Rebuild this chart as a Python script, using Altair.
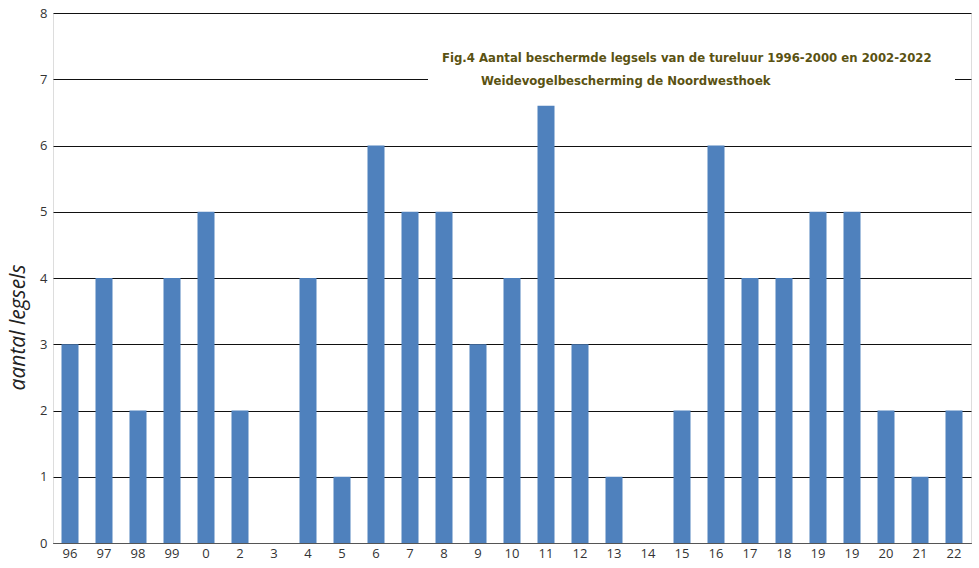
import altair as alt
import pandas as pd

labels = ["96", "97", "98", "99", "0", "2", "3", "4", "5", "6", "7", "8", "9", "10",
          "11", "12", "13", "14", "15", "16", "17", "18", "19", "19", "20", "21", "22"]
values = [3, 4, 2, 4, 5, 2, 0, 4, 1, 6, 5, 5, 3, 4,
          6.6, 3, 1, 0, 2, 6, 4, 4, 5, 5, 2, 1, 2]
y_ticks = [0, 1, 2, 3, 4, 5, 6, 7, 8]
title_lines = ["Fig.4 Aantal beschermde legsels van de tureluur 1996-2000 en 2002-2022",
               "Weidevogelbescherming de Noordwesthoek"]

keys = [f"{l}_{i}" for i, l in enumerate(labels)]
df = pd.DataFrame({"key": keys, "value": values})

W, H = 918, 530
TFONT = "'DejaVu Sans Condensed', 'Liberation Sans Narrow', sans-serif"

x_enc = alt.X("key:N", sort=keys,
              scale=alt.Scale(paddingInner=0.5, paddingOuter=0.25),
              axis=alt.Axis(title=None, labelExpr="split(datum.value, '_')[0]",
                            labelAngle=0, labelFont="Open Sans", labelFontSize=13,
                            labelColor="#333333", labelPadding=4, ticks=False,
                            domainColor="#555555", domainWidth=1.2, grid=False))
y_enc = alt.Y("value:Q", scale=alt.Scale(domain=[0, 8], nice=False),
              axis=alt.Axis(title="aantal legsels", values=y_ticks, labelOverlap=False,
                            ticks=False, domain=False,
                            labelFont="Open Sans", labelFontSize=13, labelColor="#333333",
                            labelPadding=6, gridColor="#111111", gridWidth=1,
                            titleFont="Open Sans", titleFontStyle="italic",
                            titleFontWeight="normal", titleFontSize=21, titleColor="#222222",
                            titleAngle=-90, titleX=-35, titleY=314, titleAlign="center",
                            titleBaseline="middle"))

box = alt.Chart(pd.DataFrame({"a": [0]})).mark_rect(color="white").encode(
    x=alt.value(375), x2=alt.value(902), y=alt.value(20), y2=alt.value(100))

bars = alt.Chart(df).mark_bar(color="#4f81bd").encode(x=x_enc, y=y_enc)

t1 = alt.Chart(pd.DataFrame({"t": [title_lines[0]]})).mark_text(
    font=TFONT, fontSize=13, color="#5a5212", align="left", fontWeight="bold",
    baseline="alphabetic").encode(text="t:N", x=alt.value(389), y=alt.value(49))
t2 = alt.Chart(pd.DataFrame({"t": [title_lines[1]]})).mark_text(
    font=TFONT, fontSize=13, color="#5a5212", align="left", fontWeight="bold",
    baseline="alphabetic").encode(text="t:N", x=alt.value(428), y=alt.value(72))

chart = alt.layer(box, bars, t1, t2).properties(
    width=W, height=H,
    autosize=alt.AutoSizeParams(type="none"),
    padding={"left": 53, "top": 13, "right": 8, "bottom": 25},
).configure_view(stroke=None).configure(background="white")

chart.save("out.html", embed_options={"renderer": "svg", "actions": False})
